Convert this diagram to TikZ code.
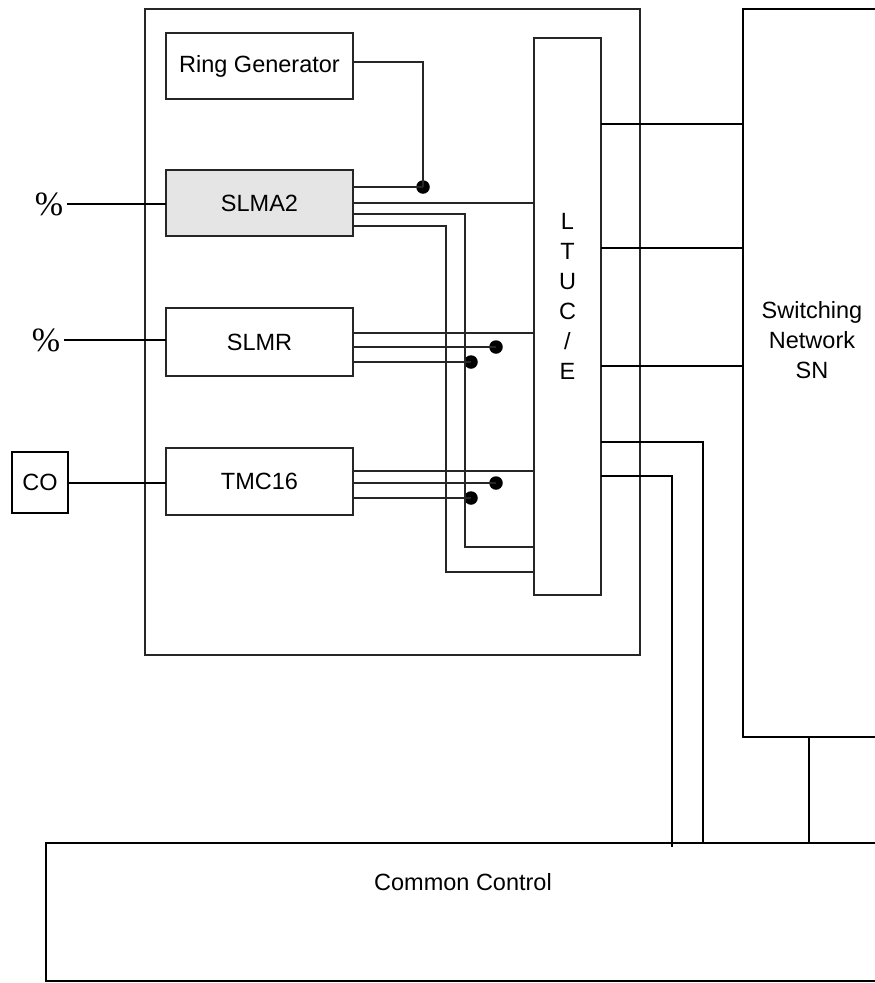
\documentclass[tikz,border=0pt]{standalone}
\usepackage{fontspec}
\newfontfamily\labfont{Liberation Sans}
\newfontfamily\pctfamily{Liberation Serif}
\newcommand{\lab}{\labfont\fontsize{23.5}{30}\selectfont}
\newcommand{\pct}{\pctfamily\fontsize{34}{34}\selectfont}
\begin{document}
\begin{tikzpicture}[x=1pt,y=-1pt,
  box/.style={draw=black!85, line width=1.3pt, inner sep=0pt, outer sep=0pt, font=\lab},
  heavybox/.style={draw=black, line width=2.6pt, inner sep=0pt, outer sep=0pt, font=\lab},
  wire/.style={draw=black!85, line width=1.3pt},
  lead/.style={draw=black, line width=2pt},
  bus/.style={draw=black, line width=2.6pt},
  dot/.style={circle, fill=black, inner sep=0pt, minimum size=13.5pt}]
\useasboundingbox (0,0) rectangle (875,983);
\clip (0,0) rectangle (875,983);

% boxes
\node[box, minimum width=495pt, minimum height=646pt] (outer) at (392.5,332) {};
\node[box, minimum width=187pt, minimum height=66pt] (rg) at (259.5,66) {Ring Generator};
\node[box, fill=black!10, minimum width=187pt, minimum height=66pt] (slma) at (259.5,203) {SLMA2};
\node[box, minimum width=187pt, minimum height=68pt] (slmr) at (259.5,342) {SLMR};
\node[box, minimum width=187pt, minimum height=67pt] (tmc) at (259.5,481.5) {TMC16};
\node[box, minimum width=67pt, minimum height=557pt] (ltuc) at (567.5,316.5) {};
\node[font=\lab, align=center, inner sep=0pt] (ltuct) at (567.5,296.5) {L\\T\\U\\C\\/\\E};
\node[heavybox, minimum width=137pt, minimum height=728pt] (sn) at (811.5,373) {};
\node[font=\lab, align=center, inner sep=0pt] (snt) at (812,340.5) {Switching\\Network\\SN};
\node[heavybox, minimum width=839pt, minimum height=138pt] (cc) at (465.5,912) {};
\node[font=\lab, inner sep=0pt] (cct) at (463,882) {Common Control};
\node[heavybox, line width=2pt, minimum width=56pt, minimum height=61pt] (co) at (40,482.5) {CO};
\node[font=\pct, inner sep=0pt] (p1) at (49,204) {\%};
\node[font=\pct, inner sep=0pt] (p2) at (46,340) {\%};

% junction dots
\node[dot] (d0) at (423,187) {};
\node[dot] (d1) at (496,347) {};
\node[dot] (d2) at (471,362) {};
\node[dot] (d3) at (496,483) {};
\node[dot] (d4) at (471,498) {};

\coordinate (b1) at (465,547);
\coordinate (b2) at (446,572);

% ring generator
\draw[wire] ([yshift=4pt]rg.east) -| (d0.center);
% SLMA2
\draw[wire] ([yshift=16pt]slma.east) -- (d0.center);
\draw[wire] (slma.east) -- (slma.east -| ltuc.west);
\draw[wire] ([yshift=-11pt]slma.east) -| (b1) -- (b1 -| ltuc.west);
\draw[wire] ([yshift=-23pt]slma.east) -| (b2) -- (b2 -| ltuc.west);
% SLMR
\draw[wire] ([yshift=9pt]slmr.east) -- ([yshift=9pt]slmr.east -| ltuc.west);
\draw[wire] ([yshift=-5pt]slmr.east) -- (d1.center);
\draw[wire] ([yshift=-20pt]slmr.east) -- (d2.center);
% TMC16
\draw[wire] ([yshift=10.5pt]tmc.east) -- ([yshift=10.5pt]tmc.east -| ltuc.west);
\draw[wire] ([yshift=-1.5pt]tmc.east) -- (d3.center);
\draw[wire] ([yshift=-16.5pt]tmc.east) -- (d4.center);

% left leads
\draw[lead, shorten <=4pt] (p1.east) -- (p1.east -| slma.west);
\draw[lead, shorten <=4pt] (p2.east) -- (p2.east -| slmr.west);
\draw[lead] (co.east) -- (co.east -| tmc.west);

% buses to switching network
\coordinate (y1) at (0,124);
\coordinate (y2) at (0,248);
\coordinate (y3) at (0,366);
\draw[bus] (ltuc.east |- y1) -- (sn.west |- y1);
\draw[bus] (ltuc.east |- y2) -- (sn.west |- y2);
\draw[bus] (ltuc.east |- y3) -- (sn.west |- y3);

% buses to common control
\coordinate (x1) at (703,442);
\coordinate (x2) at (672,476);
\coordinate (x2b) at (672,847);
\coordinate (x3) at (809,0);
\draw[bus] (ltuc.east |- x1) -| (x1 |- cc.north);
\draw[bus] (ltuc.east |- x2) -- (x2) -- (x2b);
\draw[bus] (x3 |- sn.south) -- (x3 |- cc.north);
\end{tikzpicture}
\end{document}
